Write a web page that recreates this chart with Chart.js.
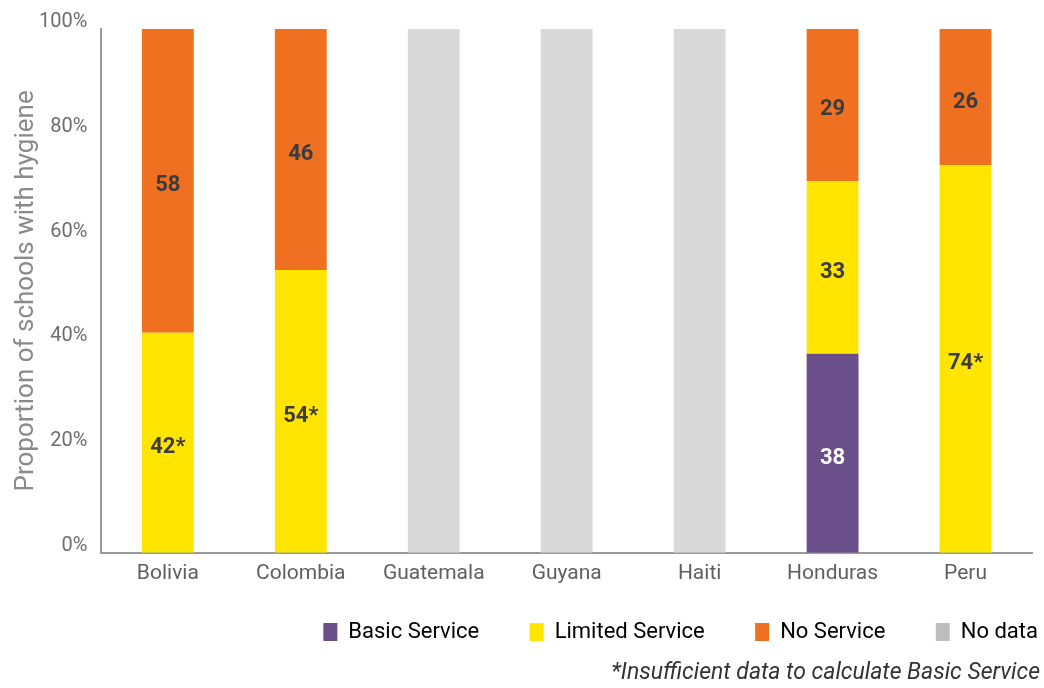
<!DOCTYPE html>
<html>
<head>
<meta charset="utf-8">
<script src="https://cdn.jsdelivr.net/npm/chart.js@4/dist/chart.umd.min.js"></script>
<style>
  body { margin: 0; background: #fff; }
  #wrap { width: 1044px; height: 688px; position: relative; }
</style>
</head>
<body>
<div id="wrap"><canvas id="myChart"></canvas></div>
<script>
const countries = ["Bolivia", "Colombia", "Guatemala", "Guyana", "Haiti", "Honduras", "Peru"];
const basic = [null, null, null, null, null, 38, null];
const limited = [42, 54, null, null, null, 33, 74];
const noService = [58, 46, null, null, null, 29, 26];
const noData = [null, null, 100, 100, 100, null, null];
// countries where basic service could not be calculated
const limitedMarks = ["*", "*", "", "", "", "", "*"];
const yTicks = [0, 20, 40, 60, 80, 100];

const FONT = "Roboto, 'DejaVu Sans', sans-serif";
const LEGEND_GAP = 34;

// draw the numbers in the middle of each bar segment
const segmentLabels = {
  id: "segmentLabels",
  afterLayout(chart) {
    // legend rows keep a trailing gap, push legend + note to the right edge
    chart.legend.left += LEGEND_GAP + 6;
    chart.legend.right += LEGEND_GAP + 6;
    chart.titleBlock.left += 8;
    chart.titleBlock.right += 8;
  },
  afterDatasetsDraw(chart) {
    const ctx = chart.ctx;
    ctx.save();
    ctx.font = "bold 22px " + FONT;
    ctx.textAlign = "center";
    ctx.textBaseline = "middle";
    chart.data.datasets.forEach((ds, di) => {
      if (ds.label === "No data") return;
      const meta = chart.getDatasetMeta(di);
      meta.data.forEach((bar, i) => {
        const v = ds.data[i];
        if (v == null) return;
        let txt = String(v);
        if (ds.label === "Limited Service") txt += limitedMarks[i];
        const p = bar.getCenterPoint();
        ctx.fillStyle = ds.label === "Basic Service" ? "#ffffff" : "#3c3c3c";
        ctx.fillText(txt, p.x, p.y + 5);
      });
    });
    ctx.restore();
  }
};

const ctx = document.getElementById("myChart").getContext("2d");
const myChart = new Chart(ctx, {
  type: "bar",
  data: {
    labels: countries,
    datasets: [
      { label: "Basic Service", data: basic, backgroundColor: "#6a4f8a" },
      { label: "Limited Service", data: limited, backgroundColor: "#ffe500" },
      { label: "No Service", data: noService, backgroundColor: "#f07022" },
      { label: "No data", data: noData, backgroundColor: "#d9d9d9" },
    ],
  },
  options: {
    responsive: true,
    maintainAspectRatio: false,
    animation: false,
    datasets: { bar: { barPercentage: 0.39, categoryPercentage: 1 } },
    layout: { padding: { left: 13, right: 12, top: 29, bottom: 0 } },
    scales: {
      x: {
        stacked: true,
        grid: { display: false, drawTicks: true, tickLength: 8 },
        border: { display: true, color: "#9a9a9a", width: 2 },
        ticks: { color: "#5f5f5f", font: { family: FONT, size: 21, lineHeight: 1.25 }, padding: 0 },
      },
      y: {
        stacked: true,
        min: 0,
        max: 100,
        afterBuildTicks: (axis) => { axis.ticks = yTicks.map((v) => ({ value: v })); },
        grid: { display: false, drawTicks: true, tickLength: 14 },
        border: { display: true, color: "#9a9a9a", width: 2 },
        ticks: {
          color: "#6d6d6d",
          font: { family: FONT, size: 20 },
          padding: 0,
          labelOffset: -7,
          callback: (v) => v + "%",
        },
        title: {
          display: true,
          text: "Proportion of schools with hygiene",
          color: "#8a8a8a",
          font: { family: FONT, size: 26, lineHeight: 1 },
          padding: 0,
        },
      },
    },
    plugins: {
      tooltip: { enabled: false },
      legend: {
        position: "bottom",
        align: "end",
        labels: {
          color: "#5f5f5f",
          font: { family: FONT, size: 22 },
          boxWidth: 14,
          boxHeight: 18,
          padding: LEGEND_GAP,
          generateLabels: (chart) =>
            chart.data.datasets.map((ds, i, all) => ({
              text: ds.label + (i < all.length - 1 ? "   " : ""),
              fillStyle: ds.label === "No data" ? "#bdbdc1" : ds.backgroundColor,
              strokeStyle: "transparent",
              lineWidth: 0,
              datasetIndex: i,
            })),
        },
      },
      title: {
        display: true,
        position: "bottom",
        align: "end",
        text: "*Insufficient data to calculate Basic Service",
        color: "#333333",
        font: { family: FONT, size: 23, style: "italic", weight: "normal", lineHeight: 1 },
        padding: { top: 9, bottom: 3 },
      },
    },
  },
  plugins: [segmentLabels],
});
</script>
</body>
</html>
